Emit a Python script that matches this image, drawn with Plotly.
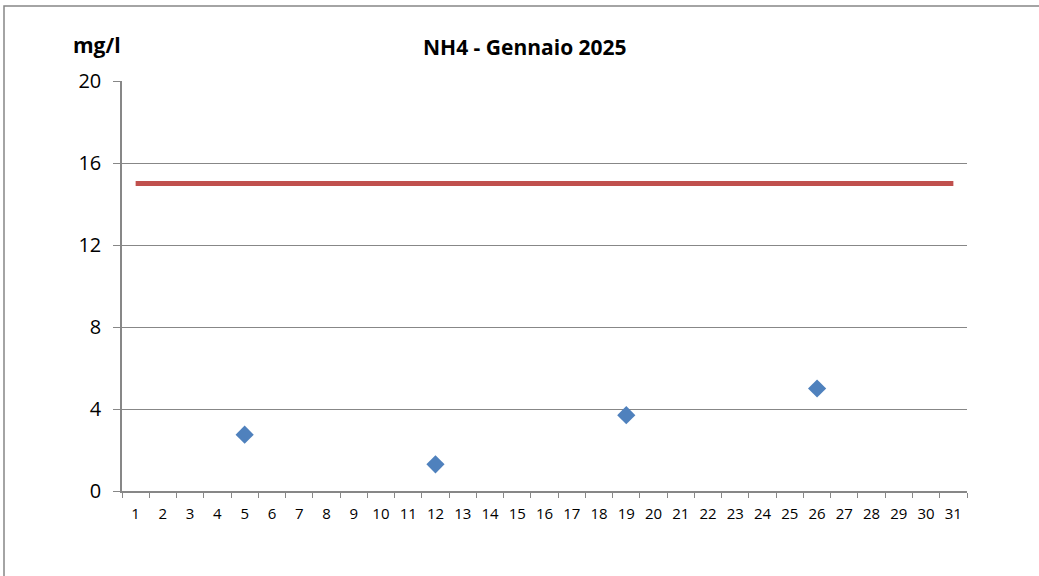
import plotly.graph_objects as go

days = [str(d) for d in range(1, 32)]
limit_value = 15
sample_days = ["5", "12", "19", "26"]
sample_values = [2.75, 1.3, 3.7, 5.0]
y_ticks = [0, 4, 8, 12, 16, 20]

W, H = 1039, 576
L, R, T, B = 122, 72, 81, 85
pw, ph = W - L - R, H - T - B

def px(x):
    return (x - L) / pw

def py(y):
    return (H - B - y) / ph

FONT = "Open Sans"
GRAY = "#878787"

fig = go.Figure()
fig.add_trace(go.Scatter(
    x=days, y=[limit_value] * len(days), mode="lines",
    line=dict(color="#C0504D", width=5), showlegend=False, hoverinfo="skip"))
fig.add_trace(go.Scatter(
    x=sample_days, y=sample_values, mode="markers",
    marker=dict(symbol="diamond", color="#4F81BD", size=14,
                line=dict(color="#4F81BD", width=0)),
    showlegend=False))

fig.update_layout(
    width=W, height=H,
    margin=dict(l=L, r=R, t=T, b=B),
    plot_bgcolor="white", paper_bgcolor="white",
    font=dict(family=FONT, color="black"),
    xaxis=dict(type="category", categoryorder="array", categoryarray=days,
               range=[-0.5, 30.5], tickson="boundaries", ticks="outside",
               ticklen=5, tickcolor=GRAY, tickwidth=1.2, tickangle=0,
               showline=True, linecolor=GRAY, linewidth=1.5,
               showgrid=False, tickfont=dict(size=15, family=FONT),
               ticklabelstandoff=8,
               fixedrange=True),
    yaxis=dict(range=[0, 20], tickvals=y_ticks, ticks="outside", ticklen=7,
               tickcolor=GRAY, tickwidth=1.2,
               showline=True, linecolor=GRAY, linewidth=1.5,
               showgrid=True, gridcolor=GRAY, gridwidth=1.2,
               zeroline=False, tickfont=dict(size=20, family=FONT),
               ticklabelstandoff=8,
               fixedrange=True),
    shapes=[dict(type="rect", xref="paper", yref="paper",
                 x0=px(4), x1=px(1046), y0=py(583), y1=py(6),
                 line=dict(color=GRAY, width=1.5), fillcolor="rgba(0,0,0,0)",
                 layer="below")],
    annotations=[
        dict(text="<b>NH4 - Gennaio 2025</b>", xref="paper", yref="paper",
             x=px(525), y=py(47), xanchor="center", yanchor="middle",
             showarrow=False, font=dict(size=21, family=FONT)),
        dict(text="<b>mg/l</b>", xref="paper", yref="paper",
             x=px(97), y=py(45), xanchor="center", yanchor="middle",
             showarrow=False, font=dict(size=21, family=FONT)),
    ],
)

fig.write_html("out.html", config={"displayModeBar": False},
               post_script="document.body.style.margin='0';")
